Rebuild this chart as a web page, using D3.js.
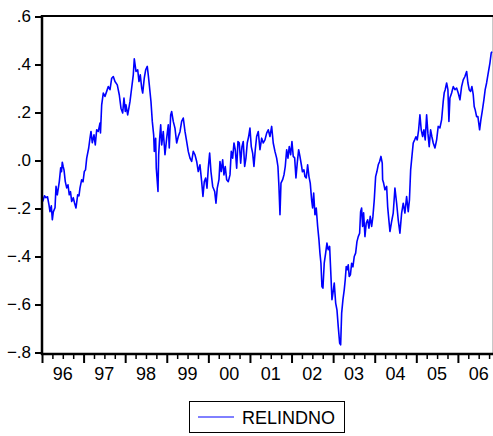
<!DOCTYPE html>
<html>
<head>
<meta charset="utf-8">
<script src="https://cdn.jsdelivr.net/npm/d3@7"></script>
<style>
  html, body { margin: 0; padding: 0; background: #fff; }
  svg { display: block; }
  text { font-family: "Liberation Sans", Arial, sans-serif; fill: #000; }
</style>
</head>
<body>
<svg id="chart" width="493" height="436"></svg>
<script>
// Observation times (decimal years) for RELINDNO
const obsYears = [
  1996.017,1996.060,1996.096,1996.132,1996.168,1996.192,1996.224,1996.248,1996.272,1996.313,
  1996.337,1996.368,1996.416,1996.450,1996.469,1996.488,1996.510,1996.529,1996.560,1996.594,
  1996.625,1996.656,1996.685,1996.714,1996.752,1996.781,1996.817,1996.858,1996.889,1996.913,
  1996.954,1996.986,1997.017,1997.046,1997.075,1997.123,1997.154,1997.178,1997.209,1997.250,
  1997.281,1997.315,1997.353,1997.394,1997.406,1997.435,1997.474,1997.514,1997.555,1997.594,
  1997.635,1997.676,1997.714,1997.755,1997.810,1997.858,1997.899,1997.940,1997.971,1998.003,
  1998.019,1998.060,1998.091,1998.116,1998.156,1998.195,1998.219,1998.260,1998.301,1998.332,
  1998.363,1998.397,1998.421,1998.459,1998.493,1998.531,1998.555,1998.580,1998.620,1998.652,
  1998.685,1998.700,1998.733,1998.748,1998.772,1998.789,1998.805,1998.829,1998.854,1998.878,
  1998.916,1998.957,1998.998,1999.036,1999.060,1999.094,1999.118,1999.156,1999.197,1999.238,
  1999.277,1999.318,1999.358,1999.397,1999.438,1999.479,1999.517,1999.558,1999.599,1999.637,
  1999.678,1999.719,1999.757,1999.798,1999.839,1999.870,1999.902,1999.935,1999.967,1999.998,
  2000.031,2000.063,2000.104,2000.152,2000.183,2000.214,2000.255,2000.279,2000.310,2000.344,
  2000.375,2000.406,2000.440,2000.479,2000.520,2000.551,2000.584,2000.616,2000.647,2000.681,
  2000.712,2000.743,2000.777,2000.808,2000.839,2000.873,2000.904,2000.935,2000.969,2001.000,
  2001.032,2001.065,2001.096,2001.128,2001.161,2001.200,2001.241,2001.282,2001.320,2001.361,
  2001.402,2001.440,2001.481,2001.522,2001.560,2001.601,2001.642,2001.673,2001.697,2001.722,
  2001.746,2001.786,2001.818,2001.849,2001.883,2001.914,2001.945,2001.979,2002.010,2002.041,
  2002.075,2002.106,2002.137,2002.171,2002.202,2002.243,2002.262,2002.298,2002.323,2002.354,
  2002.387,2002.419,2002.450,2002.483,2002.507,2002.532,2002.563,2002.594,2002.628,2002.659,
  2002.683,2002.707,2002.731,2002.755,2002.786,2002.820,2002.851,2002.883,2002.916,2002.948,
  2002.972,2002.996,2003.027,2003.061,2003.092,2003.123,2003.157,2003.181,2003.205,2003.236,
  2003.267,2003.291,2003.315,2003.339,2003.363,2003.387,2003.416,2003.445,2003.476,2003.508,
  2003.541,2003.573,2003.604,2003.637,2003.661,2003.685,2003.709,2003.733,2003.765,2003.796,
  2003.830,2003.861,2003.892,2003.926,2003.957,2003.989,2004.022,2004.053,2004.085,2004.118,
  2004.150,2004.181,2004.190,2004.214,2004.246,2004.287,2004.311,2004.325,2004.366,2004.407,
  2004.445,2004.486,2004.527,2004.565,2004.606,2004.647,2004.686,2004.726,2004.767,2004.806,
  2004.835,2004.864,2004.895,2004.926,2004.960,2004.991,2005.022,2005.056,2005.087,2005.118,
  2005.152,2005.183,2005.214,2005.248,2005.279,2005.310,2005.344,2005.375,2005.407,2005.448,
  2005.489,2005.527,2005.568,2005.609,2005.647,2005.671,2005.695,2005.729,2005.760,2005.784,
  2005.808,2005.849,2005.888,2005.929,2005.969,2006.008,2006.049,2006.089,2006.128,2006.169,
  2006.210,2006.241,2006.272,2006.306,2006.337,2006.369,2006.392,2006.416,2006.450,2006.481,
  2006.522,2006.553,2006.584,2006.625,2006.656,2006.690,2006.729,2006.770,2006.801,2006.820
];

// RELINDNO values
const relindno = [
  -0.171,-0.147,-0.155,-0.151,-0.185,-0.213,-0.189,-0.247,-0.214,-0.197,
  -0.108,-0.143,-0.088,-0.030,-0.047,-0.007,-0.026,-0.039,-0.088,-0.114,
  -0.101,-0.143,-0.130,-0.171,-0.155,-0.176,-0.198,-0.143,-0.147,-0.115,
  -0.080,-0.089,-0.046,-0.039,0.010,0.052,0.093,0.121,0.074,0.107,
  0.065,0.128,0.121,0.156,0.115,0.232,0.281,0.267,0.288,0.308,
  0.295,0.343,0.350,0.329,0.315,0.274,0.218,0.198,0.260,0.204,
  0.232,0.190,0.220,0.246,0.302,0.357,0.424,0.371,0.378,0.329,
  0.357,0.302,0.281,0.343,0.378,0.392,0.357,0.315,0.246,0.163,
  0.107,0.038,0.093,-0.032,-0.088,-0.129,0.024,0.093,0.149,0.065,
  0.121,0.024,0.093,0.149,0.052,0.190,0.204,0.163,0.135,0.073,
  0.100,0.120,0.163,0.177,0.121,0.079,0.038,0.010,-0.004,0.038,
  0.024,-0.004,-0.046,-0.018,-0.088,-0.150,-0.088,-0.073,-0.115,-0.032,
  0.031,-0.047,-0.108,-0.129,-0.178,-0.115,-0.080,-0.004,-0.046,0.003,
  -0.060,-0.025,-0.080,-0.088,-0.060,0.038,0.010,0.073,0.045,-0.032,
  0.079,0.074,-0.011,0.058,0.079,-0.025,0.010,0.073,0.100,0.135,
  0.058,0.031,-0.025,0.045,0.100,0.121,0.045,0.093,0.073,0.086,
  0.114,0.128,0.100,0.142,0.073,0.038,0.010,-0.025,-0.108,-0.226,
  -0.094,-0.080,-0.060,-0.025,0.045,0.010,0.058,0.024,0.079,0.017,
  0.011,-0.073,-0.011,0.045,0.017,-0.025,-0.047,-0.039,-0.067,-0.073,
  -0.018,-0.067,-0.094,-0.164,-0.198,-0.136,-0.226,-0.198,-0.275,-0.330,
  -0.386,-0.428,-0.525,-0.532,-0.428,-0.386,-0.344,-0.372,-0.358,-0.483,
  -0.580,-0.553,-0.511,-0.594,-0.622,-0.692,-0.761,-0.768,-0.636,-0.580,
  -0.539,-0.497,-0.442,-0.455,-0.435,-0.483,-0.476,-0.428,-0.443,-0.400,
  -0.386,-0.338,-0.317,-0.303,-0.213,-0.198,-0.275,-0.218,-0.317,-0.261,
  -0.247,-0.282,-0.233,-0.275,-0.233,-0.164,-0.067,-0.046,-0.018,-0.004,
  0.017,-0.011,-0.080,-0.094,-0.122,-0.108,-0.192,-0.219,-0.296,-0.254,
  -0.219,-0.115,-0.178,-0.247,-0.303,-0.219,-0.178,-0.219,-0.150,-0.213,
  -0.164,-0.039,0.017,0.073,0.086,0.099,0.086,0.128,0.190,0.128,
  0.100,0.128,0.086,0.190,0.114,0.058,0.128,0.099,0.073,0.052,
  0.086,0.142,0.136,0.170,0.246,0.282,0.295,0.323,0.295,0.163,
  0.260,0.281,0.308,0.295,0.302,0.281,0.253,0.308,0.336,0.350,
  0.371,0.323,0.295,0.288,0.308,0.274,0.225,0.211,0.183,0.183,
  0.128,0.170,0.204,0.253,0.295,0.323,0.364,0.406,0.448,0.454
];

const yTickValues = [-0.8, -0.6, -0.4, -0.2, 0.0, 0.2, 0.4, 0.6];
const yearStarts = [1996, 1997, 1998, 1999, 2000, 2001, 2002, 2003, 2004, 2005, 2006];
const yearLabels = ["96", "97", "98", "99", "00", "01", "02", "03", "04", "05", "06"];
const seriesName = "RELINDNO";

const svg = d3.select("#chart");
const plotLeft = 42, plotRight = 492, plotTop = 16, plotBottom = 354;

const x = d3.scaleLinear().domain([1996, 2006.82]).range([plotLeft, plotRight]);
const y = d3.scaleLinear().domain([-0.8, 0.6]).range([352.5, 16.5]);

const data = obsYears.map((t, i) => ({ t, v: relindno[i] }));

// right edge of the frame (light)
svg.append("line")
  .attr("x1", plotRight + 0.5).attr("x2", plotRight + 0.5)
  .attr("y1", plotTop).attr("y2", plotBottom)
  .attr("stroke", "#c8c8c8").attr("stroke-width", 1);

// series line
svg.append("path")
  .datum(data)
  .attr("fill", "none")
  .attr("stroke", "#0000ff")
  .attr("stroke-width", 1.6)
  .attr("stroke-linejoin", "round")
  .attr("d", d3.line().x(d => x(d.t)).y(d => y(d.v)));

// top frame line
svg.append("line")
  .attr("x1", plotLeft).attr("x2", plotRight + 1)
  .attr("y1", plotTop).attr("y2", plotTop)
  .attr("stroke", "#000").attr("stroke-width", 2);

// left axis
const fmtY = d => d3.format(".1f")(d).replace("0.", ".");
const yAxis = svg.append("g")
  .attr("transform", `translate(${plotLeft},0)`)
  .call(d3.axisLeft(y).tickValues(yTickValues).tickFormat(fmtY).tickSize(7).tickPadding(4));
yAxis.select(".domain").remove();
yAxis.selectAll(".tick line").attr("stroke", "#000").attr("stroke-width", 2);
yAxis.selectAll(".tick text").style("font-size", "17px")
  .style("font-family", "'Liberation Sans', Arial, sans-serif");
svg.append("line")
  .attr("x1", plotLeft).attr("x2", plotLeft)
  .attr("y1", plotTop - 1).attr("y2", plotBottom + 1)
  .attr("stroke", "#000").attr("stroke-width", 2.5);

// bottom axis: quarterly minor ticks and yearly major ticks
const quarters = [];
yearStarts.forEach(yr => [0.25, 0.5, 0.75].forEach(q => { if (yr + q <= 2006.82) quarters.push(yr + q); }));
const xMinor = svg.append("g")
  .attr("transform", `translate(0,${plotBottom})`)
  .call(d3.axisBottom(x).tickValues(quarters).tickFormat("").tickSize(5));
xMinor.select(".domain").remove();
xMinor.selectAll(".tick line").attr("stroke", "#000").attr("stroke-width", 1.5);

const xMajor = svg.append("g")
  .attr("transform", `translate(0,${plotBottom})`)
  .call(d3.axisBottom(x).tickValues(yearStarts).tickFormat("").tickSize(9));
xMajor.select(".domain").remove();
xMajor.selectAll(".tick line").attr("stroke", "#000").attr("stroke-width", 2);

svg.append("line")
  .attr("x1", plotLeft - 1).attr("x2", plotRight + 1)
  .attr("y1", plotBottom).attr("y2", plotBottom)
  .attr("stroke", "#000").attr("stroke-width", 2.5);

svg.append("g").selectAll("text")
  .data(yearStarts)
  .join("text")
  .attr("x", d => x(d + 0.5))
  .attr("y", 380)
  .attr("text-anchor", "middle")
  .style("font-size", "18px")
  .text((d, i) => yearLabels[i]);

// legend
const legend = svg.append("g");
legend.append("rect")
  .attr("x", 189.5).attr("y", 401.5)
  .attr("width", 155).attr("height", 31)
  .attr("fill", "#fff").attr("stroke", "#000").attr("stroke-width", 1);
legend.append("line")
  .attr("x1", 198).attr("x2", 234)
  .attr("y1", 417).attr("y2", 417)
  .attr("stroke", "#0000ff").attr("stroke-width", 1);
legend.append("text")
  .attr("x", 242).attr("y", 424)
  .style("font-size", "18px")
  .text(seriesName);
</script>
</body>
</html>
